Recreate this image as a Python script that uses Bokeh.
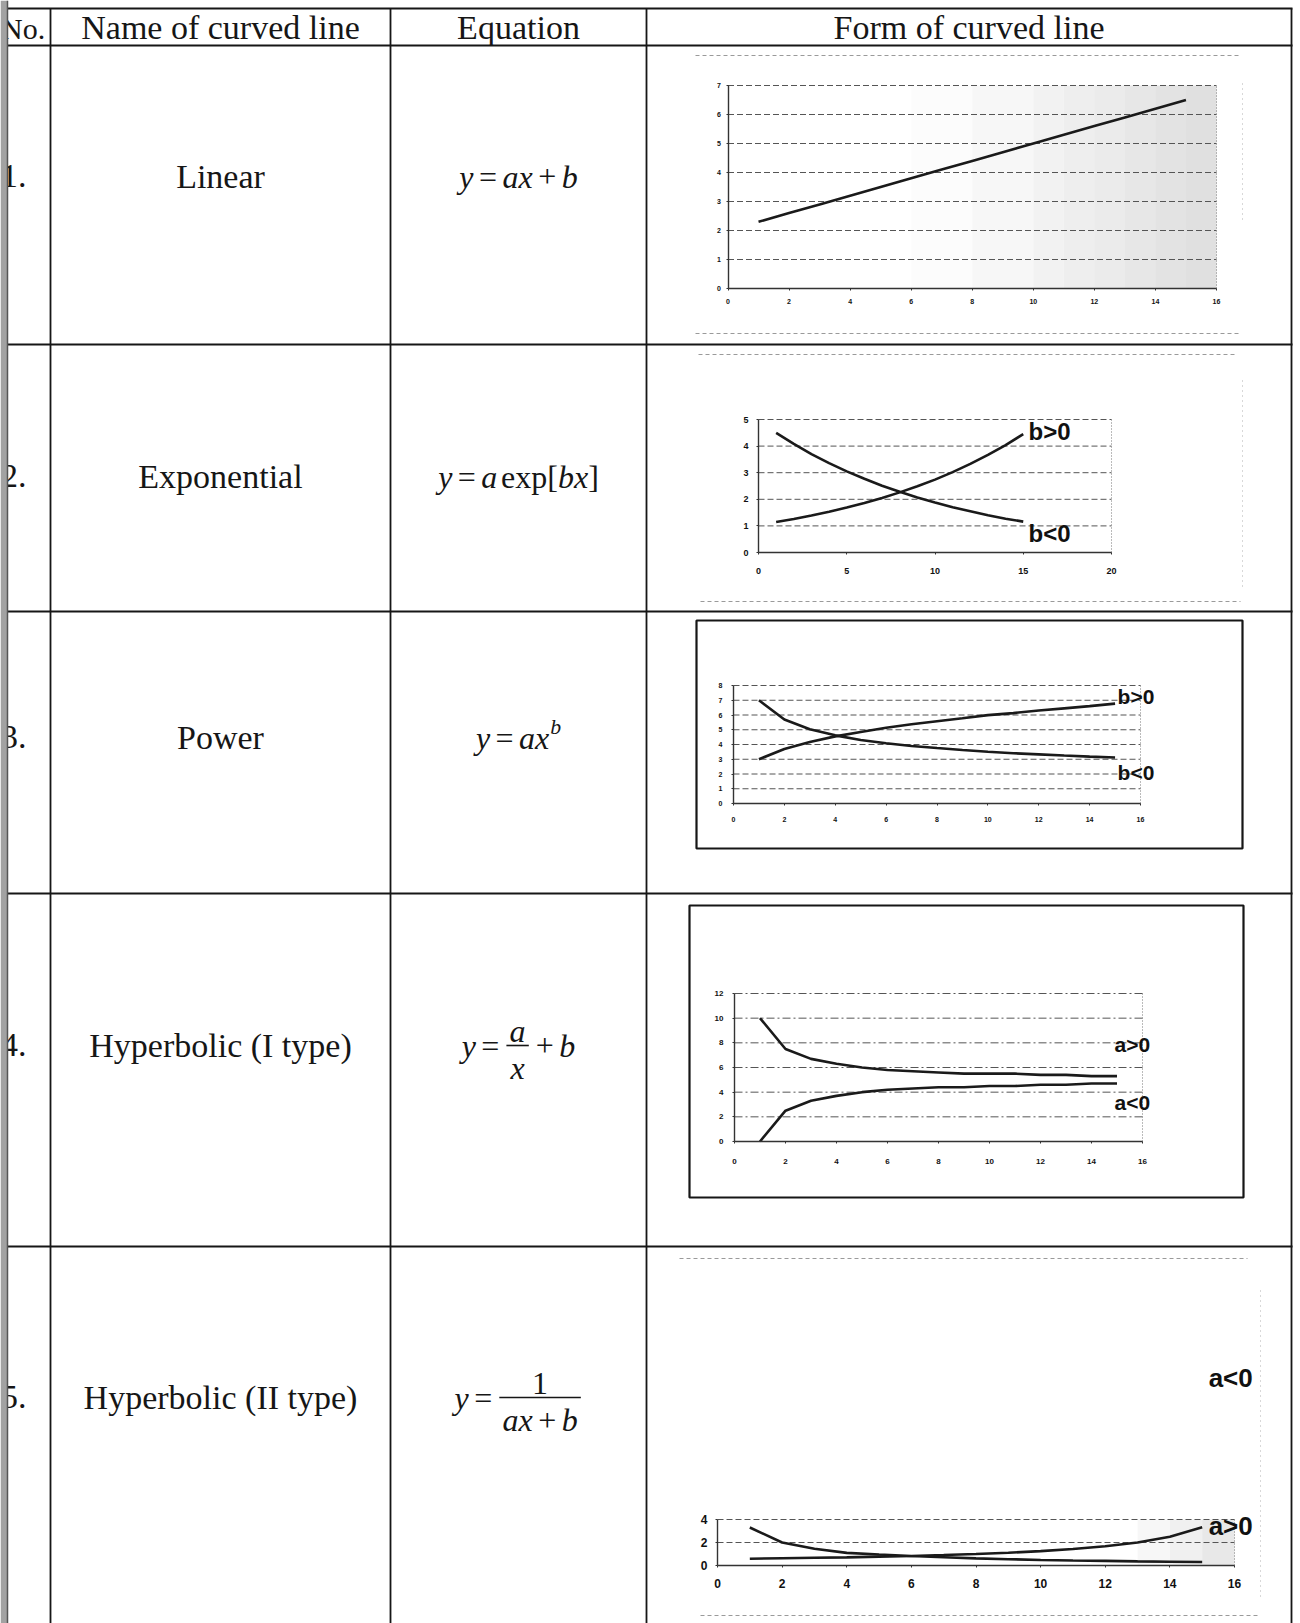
from bokeh.plotting import figure
from bokeh.models import Range1d, LinearAxis, FixedTicker
from bokeh.core.properties import value
from bokeh.embed import file_html
from bokeh.resources import INLINE

# ---------------- data ----------------
header_labels = ["No.", "Name of curved line", "Equation", "Form of curved line"]
row_numbers = ["1.", "2.", "3.", "4.", "5."]
curve_names = ["Linear", "Exponential", "Power", "Hyperbolic (I type)", "Hyperbolic (II type)"]

x_points = [1, 2, 3, 4, 5, 6, 7, 8, 9, 10, 11, 12, 13, 14, 15]
linear_y = [2.3, 2.6, 2.9, 3.2, 3.5, 3.8, 4.1, 4.4, 4.7, 5.0, 5.3, 5.6, 5.9, 6.2, 6.5]
exp_bpos_y = [1.15, 1.26, 1.39, 1.53, 1.69, 1.86, 2.05, 2.26, 2.49, 2.74, 3.02, 3.33, 3.67, 4.04, 4.45]
exp_bneg_y = [4.50, 4.08, 3.70, 3.36, 3.05, 2.77, 2.51, 2.28, 2.07, 1.88, 1.70, 1.55, 1.40, 1.27, 1.16]
pow_bpos_y = [3.0, 3.69, 4.17, 4.55, 4.85, 5.13, 5.37, 5.58, 5.78, 5.99, 6.13, 6.30, 6.45, 6.60, 6.77]
pow_bneg_y = [7.0, 5.69, 5.04, 4.62, 4.31, 4.09, 3.90, 3.76, 3.63, 3.51, 3.41, 3.33, 3.25, 3.18, 3.12]
hyp1_apos_y = [10.0, 7.5, 6.7, 6.3, 6.0, 5.8, 5.7, 5.6, 5.5, 5.5, 5.5, 5.4, 5.4, 5.3, 5.3]
hyp1_aneg_y = [0.0, 2.5, 3.3, 3.7, 4.0, 4.2, 4.3, 4.4, 4.4, 4.5, 4.5, 4.6, 4.6, 4.7, 4.7]
hyp2_dec_y = [3.3, 2.0, 1.45, 1.1, 0.95, 0.82, 0.72, 0.62, 0.55, 0.48, 0.43, 0.40, 0.36, 0.33, 0.30]
hyp2_inc_y = [0.59, 0.63, 0.67, 0.71, 0.77, 0.83, 0.91, 1.0, 1.11, 1.25, 1.43, 1.67, 2.0, 2.5, 3.33]

x_ticks_16 = [0, 2, 4, 6, 8, 10, 12, 14, 16]
x_ticks_20 = [0, 5, 10, 15, 20]
y_ticks_lin = [0, 1, 2, 3, 4, 5, 6, 7]
y_ticks_exp = [0, 1, 2, 3, 4, 5]
y_ticks_pow = [0, 1, 2, 3, 4, 5, 6, 7, 8]
y_ticks_hyp1 = [0, 2, 4, 6, 8, 10, 12]
y_ticks_hyp2 = [0, 2, 4]

# ---------------- canvas ----------------
W, H = 1300, 1623
PX0, PX1 = 0, 1300
PY0, PY1 = 0, 1623

p = figure(width=W, height=H, x_range=Range1d(PX0, PX1), y_range=Range1d(PY1, PY0),
           x_axis_type=None, y_axis_type=None, toolbar_location=None,
           output_backend="svg", min_border=0)
p.outline_line_color = None
p.background_fill_color = "white"
p.border_fill_color = "white"

SERIF = value("Liberation Serif")
SANS = value("Liberation Sans")
INK = "#161616"
BASE_FIX = 0.24   # alphabetic-baseline correction (fraction of font size)

# ---------------- table lines ----------------
row_edges = [8, 45, 344, 611, 893, 1246]
col_edges = [50, 390, 646, 1291]
p.segment(x0=[7] * len(row_edges), x1=[1292] * len(row_edges), y0=row_edges, y1=row_edges,
          line_color=INK, line_width=2)
p.segment(x0=col_edges, x1=col_edges, y0=[8] * len(col_edges), y1=[PY1] * len(col_edges),
          line_color=INK, line_width=1.8)

# ---------------- header & names ----------------
FS = 34
col_centers = [220, 518, 968.5]
hb = 35 - BASE_FIX * FS
p.text(x=[0.5], y=[35 - BASE_FIX * 30], text=[header_labels[0]], text_font=SERIF, text_font_size="30px",
       text_align="left", text_baseline="alphabetic", text_color=INK)
p.text(x=col_centers, y=[hb] * 3, text=header_labels[1:], text_font=SERIF, text_font_size=f"{FS}px",
       text_align="center", text_baseline="alphabetic", text_color=INK)

row_base = [184, 484, 745, 1053, 1405]
rb = [b - BASE_FIX * FS for b in row_base]
p.text(x=[0.5] * 5, y=rb, text=row_numbers, text_font=SERIF, text_font_size=f"{FS}px",
       text_align="left", text_baseline="alphabetic", text_color=INK)
p.text(x=[220] * 5, y=rb, text=curve_names, text_font=SERIF, text_font_size=f"{FS}px",
       text_align="center", text_baseline="alphabetic", text_color=INK)

# left binding shadow (drawn over the edge of the numbers)
p.quad(left=[0], right=[7], top=[PY0], bottom=[PY1], fill_color="#a2a2a2", line_color=None)
p.segment(x0=[7], x1=[7], y0=[PY0], y1=[PY1], line_color="#555555", line_width=1.5)

# ---------------- equations ----------------
EQ = 32
W_IT = {'y': 444, 'a': 500, 'x': 444, 'b': 500}
W_RG = {'e': 444, 'x': 500, 'p': 500, '[': 333, ']': 333, '1': 500, '=': 564, '+': 564}


def tw(s, style, size):
    d = W_IT if style == "italic" else W_RG
    return sum(d[c] for c in s) / 1000.0 * size


def seq_width(seq, size):
    w = 0.0
    for t in seq:
        if t[0] == "t":
            w += tw(t[1], t[2], size)
        elif t[0] == "g":
            w += t[1] * size
        elif t[0] == "sup":
            w += 0.03 * size + tw(t[1], t[2], size * 0.68)
        elif t[0] == "frac":
            w += max(seq_width(t[1], size), seq_width(t[2], size)) + 0.3 * size
    return w


def place(seq, x, base, size, out, bars):
    for t in seq:
        if t[0] == "t":
            out.append((x, base, t[1], t[2], size))
            x += tw(t[1], t[2], size)
        elif t[0] == "g":
            x += t[1] * size
        elif t[0] == "sup":
            x += 0.03 * size
            out.append((x, base - 0.40 * size, t[1], t[2], size * 0.68))
            x += tw(t[1], t[2], size * 0.68)
        elif t[0] == "frac":
            nw = seq_width(t[1], size)
            dw = seq_width(t[2], size)
            fw = max(nw, dw) + 0.3 * size
            axis = base - 0.25 * size
            bars.append((x + 0.05 * size, x + fw - 0.05 * size, axis))
            place(t[1], x + (fw - nw) / 2, axis - 0.2 * size, size, out, bars)
            place(t[2], x + (fw - dw) / 2, axis + 0.95 * size, size, out, bars)
            x += fw
    return x


I, R = "italic", "normal"
G = ("g", 0.17)
equations = [
    [("t", "y", I), G, ("t", "=", R), G, ("t", "ax", I), G, ("t", "+", R), G, ("t", "b", I)],
    [("t", "y", I), G, ("t", "=", R), G, ("t", "a", I), ("g", 0.12), ("t", "exp", R), ("t", "[", R),
     ("t", "bx", I), ("t", "]", R)],
    [("t", "y", I), G, ("t", "=", R), G, ("t", "ax", I), ("sup", "b", I)],
    [("t", "y", I), G, ("t", "=", R), G, ("frac", [("t", "a", I)], [("t", "x", I)]), G,
     ("t", "+", R), G, ("t", "b", I)],
    [("t", "y", I), G, ("t", "=", R), G,
     ("frac", [("t", "1", R)], [("t", "ax", I), G, ("t", "+", R), G, ("t", "b", I)])],
]
pieces, bars = [], []
for seq, base in zip(equations, row_base):
    w = seq_width(seq, EQ)
    place(seq, 518 - w / 2, base, EQ, pieces, bars)

groups = {}
for (x, y, s, st, sz) in pieces:
    groups.setdefault((st, round(sz, 1)), []).append((x, y, s))
for (st, sz), items in groups.items():
    p.text(x=[i[0] for i in items], y=[i[1] - BASE_FIX * sz for i in items], text=[i[2] for i in items],
           text_font=SERIF, text_font_style=st, text_font_size=f"{sz}px",
           text_align="left", text_baseline="alphabetic", text_color=INK)
p.segment(x0=[b[0] for b in bars], x1=[b[1] for b in bars], y0=[b[2] for b in bars],
          y1=[b[2] for b in bars], line_color=INK, line_width=1.6)

# ---------------- chart decorations (chart areas) ----------------
faint_h = [(695, 1241, 55), (695, 1241, 333), (698, 1236, 354), (700, 1240, 601),
           (679, 1247, 1258), (700, 1260, 1615)]
p.segment(x0=[f[0] for f in faint_h], x1=[f[1] for f in faint_h], y0=[f[2] for f in faint_h],
          y1=[f[2] for f in faint_h], line_color="#9a9a9a", line_width=1, line_dash="4 3")
faint_v = [(1242, 83, 220), (1242, 380, 590), (1260, 1290, 1600)]
p.segment(x0=[f[0] for f in faint_v], x1=[f[0] for f in faint_v], y0=[f[1] for f in faint_v],
          y1=[f[2] for f in faint_v], line_color="#b0b0b0", line_width=1, line_dash="1 4")
boxes = [(696, 1242, 620, 848), (689, 1243, 905, 1197)]
p.quad(left=[b[0] for b in boxes], right=[b[1] for b in boxes], top=[b[2] for b in boxes],
       bottom=[b[3] for b in boxes], fill_color=None, line_color=INK, line_width=2.2)

# ---------------- mini charts ----------------
charts = [
    dict(name="c1", xlim=(0, 16), ylim=(0, 7), px=(727.5, 1216), py=(288, 85),
         xticks=x_ticks_16, yticks=y_ticks_lin, grid=y_ticks_lin[1:], fs=7, xs=8, ys=5,
         series=[linear_y], labels=[], lfs=0, dash="6 3",
         shade=[(6, 0.01), (8, 0.03), (10, 0.05), (11, 0.065), (12, 0.08), (13, 0.095), (14, 0.11), (15, 0.12)]),
    dict(name="c2", xlim=(0, 20), ylim=(0, 5), px=(758, 1111), py=(552, 419),
         xticks=x_ticks_20, yticks=y_ticks_exp, grid=y_ticks_exp[1:], fs=9, xs=13, ys=8,
         series=[exp_bpos_y, exp_bneg_y], labels=[("b>0", 15.3, 4.55), ("b<0", 15.3, 0.71)],
         lfs=24, dash="6 3", shade=[]),
    dict(name="c3", xlim=(0, 16), ylim=(0, 8), px=(733, 1140), py=(803, 685),
         xticks=x_ticks_16, yticks=y_ticks_pow, grid=y_ticks_pow[1:], fs=7, xs=11, ys=9,
         series=[pow_bpos_y, pow_bneg_y], labels=[("b>0", 15.1, 7.25), ("b<0", 15.1, 2.1)],
         lfs=21, dash="6 3", shade=[]),
    dict(name="c4", xlim=(0, 16), ylim=(0, 12), px=(734, 1142), py=(1141, 993),
         xticks=x_ticks_16, yticks=y_ticks_hyp1, grid=y_ticks_hyp1[1:], fs=8, xs=15, ys=9,
         series=[hyp1_apos_y, hyp1_aneg_y], labels=[("a>0", 14.9, 7.9), ("a<0", 14.9, 3.2)],
         lfs=21, dash="8 3 2 3", shade=[]),
    dict(name="c5", xlim=(0, 16), ylim=(0, 4), px=(717, 1234), py=(1565, 1519),
         xticks=x_ticks_16, yticks=y_ticks_hyp2, grid=y_ticks_hyp2[1:], fs=12, xs=11, ys=8,
         series=[hyp2_dec_y, hyp2_inc_y], labels=[("a<0", 15.2, 16.3), ("a>0", 15.2, 3.4)],
         lfs=26, dash="6 3", shade=[(13, 0.03), (14, 0.06), (15, 0.09)]),
]

extra_x, extra_y = {}, {}
for c in charts:
    (dx0, dx1), (dy0, dy1) = c["xlim"], c["ylim"]
    (pl, pr), (pb, pt) = c["px"], c["py"]
    sx = (pr - pl) / (dx1 - dx0)
    sy = (pb - pt) / (dy1 - dy0)
    extra_x[c["name"] + "x"] = Range1d(dx0 - (pl - PX0) / sx, dx0 + (PX1 - pl) / sx)
    extra_y[c["name"] + "y"] = Range1d(dy0 - (PY1 - pb) / sy, dy0 + (pb - PY0) / sy)
p.extra_x_ranges = extra_x
p.extra_y_ranges = extra_y

for c in charts:
    xn, yn = c["name"] + "x", c["name"] + "y"
    (dx0, dx1), (dy0, dy1) = c["xlim"], c["ylim"]
    for (sx0, a) in c["shade"]:
        p.quad(left=[sx0], right=[min(sx0 + 2, dx1) if sx0 < 10 else sx0 + 1], bottom=[dy0], top=[dy1],
               fill_color="black", fill_alpha=a, line_color=None, x_range_name=xn, y_range_name=yn)
    g = c["grid"]
    p.segment(x0=[dx0] * len(g), x1=[dx1] * len(g), y0=g, y1=g, line_color="#555555",
              line_width=1, line_dash=c["dash"], x_range_name=xn, y_range_name=yn)
    p.segment(x0=[dx1], x1=[dx1], y0=[dy0], y1=[dy1], line_color="#777777", line_width=1,
              line_dash="1 2", x_range_name=xn, y_range_name=yn)
    for ys_ in c["series"]:
        p.line(x_points, ys_, line_color="#1a1a1a", line_width=2.6, x_range_name=xn, y_range_name=yn)
    if c["labels"]:
        p.text(x=[l[1] for l in c["labels"]], y=[l[2] for l in c["labels"]],
               text=[l[0] for l in c["labels"]], text_font=SANS, text_font_style="bold",
               text_font_size=f"{c['lfs']}px", text_align="left", text_baseline="middle",
               text_color="#111111", x_range_name=xn, y_range_name=yn)
    common = dict(x_range_name=xn, y_range_name=yn, major_label_text_font="Liberation Sans",
                  major_label_text_font_size=f"{c['fs']}px", major_label_text_font_style="bold",
                  major_label_text_color="#111111", major_tick_out=2, major_tick_in=0,
                  minor_tick_out=0, minor_tick_in=0, axis_line_color="#333333",
                  axis_line_width=1.4, major_tick_line_color="#333333")
    xa = LinearAxis(fixed_location=dy0, bounds=(dx0, dx1), ticker=FixedTicker(ticks=c["xticks"]),
                    major_label_standoff=c["xs"], **common)
    ya = LinearAxis(fixed_location=dx0, bounds=(dy0, dy1), ticker=FixedTicker(ticks=c["yticks"]),
                    major_label_standoff=c["ys"], **common)
    p.add_layout(xa, "below")
    p.add_layout(ya, "left")

open("out.html", "w").write(file_html(p, INLINE))
